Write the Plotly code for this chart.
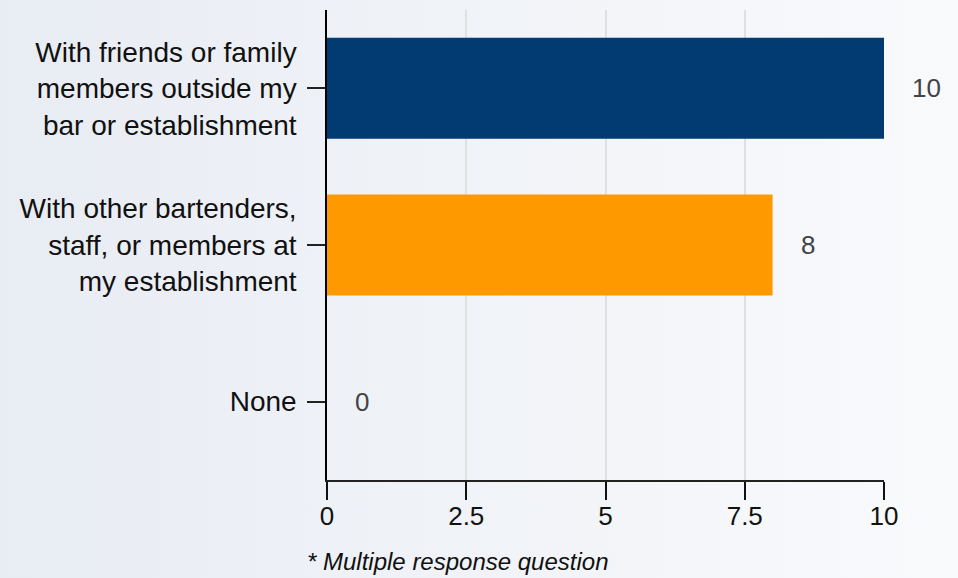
import plotly.graph_objects as go

# Survey responses (multiple response question)
categories = [
    "With friends or family<br>members outside my<br>bar or establishment",
    "With other bartenders,<br>staff, or members at<br>my establishment",
    "None",
]
counts = [10, 8, 0]
bar_colors = ["#023A72", "#FF9900", "#7F7F7F"]
x_tick_vals = [0, 2.5, 5, 7.5, 10]
x_tick_text = ["0", "2.5", "5", "7.5", "10"]
footnote = "* Multiple response question"

W, H = 958, 578
margin = dict(l=327, r=74, t=10, b=98)
plot_w = W - margin["l"] - margin["r"]
plot_h = H - margin["t"] - margin["b"]

font_family = "Liberation Sans, Arial, sans-serif"

fig = go.Figure()
fig.add_trace(
    go.Bar(
        x=counts,
        y=categories,
        orientation="h",
        marker=dict(color=bar_colors, line=dict(width=0)),
        hoverinfo="x+y",
    )
)

# Value labels placed just beyond the bar ends
for cat, val in zip(categories, counts):
    fig.add_annotation(
        x=val, y=cat, xref="x", yref="y",
        text=str(val), showarrow=False,
        xanchor="left", xshift=26,
        font=dict(family=font_family, size=26, color="#444444"),
    )

fig.add_annotation(
    x=(305 - margin["l"]) / plot_w, y=(margin["t"] + plot_h - 561) / plot_h,
    xref="paper", yref="paper",
    text="<i>" + footnote + "</i>", showarrow=False,
    xanchor="left", yanchor="middle",
    font=dict(family=font_family, size=24, color="#111111"),
)

# Soft horizontal gradient behind the whole figure
svg = (
    "data:image/svg+xml;utf8,"
    "<svg xmlns='http://www.w3.org/2000/svg' width='958' height='578' preserveAspectRatio='none'>"
    "<defs><linearGradient id='g' x1='0' y1='0' x2='1' y2='0'>"
    "<stop offset='0' stop-color='%23E8ECF3'/>"
    "<stop offset='1' stop-color='%23F9FAFC'/>"
    "</linearGradient></defs>"
    "<rect width='958' height='578' fill='url(%23g)'/></svg>"
)
fig.add_layout_image(
    source=svg, xref="paper", yref="paper",
    x=-margin["l"] / plot_w, y=1 + margin["t"] / plot_h,
    sizex=W / plot_w, sizey=H / plot_h,
    xanchor="left", yanchor="top", sizing="stretch", layer="below",
)

fig.update_layout(
    width=W, height=H,
    margin=margin,
    paper_bgcolor="#F0F3F7",
    plot_bgcolor="rgba(0,0,0,0)",
    bargap=0.355,
    showlegend=False,
    font=dict(family=font_family, size=28, color="#111111"),
    xaxis=dict(
        range=[0, 10],
        tickvals=x_tick_vals, ticktext=x_tick_text,
        showgrid=True, gridcolor="#E0E0E0", gridwidth=1.5,
        zeroline=False,
        showline=True, linecolor="#222222", linewidth=1.5,
        ticks="outside", ticklen=18, tickwidth=1.5, tickcolor="#111111",
        ticklabelstandoff=-6,
        tickfont=dict(size=26, color="#111111"),
        fixedrange=True,
    ),
    yaxis=dict(
        categoryorder="array", categoryarray=categories,
        autorange="reversed",
        showgrid=False, zeroline=False,
        showline=True, linecolor="#000000", linewidth=1.5,
        ticks="outside", ticklen=18, tickwidth=1.5, tickcolor="#222222",
        ticklabelstandoff=5,
        tickfont=dict(size=28, color="#111111"),
        fixedrange=True,
    ),
)

fig.write_html("out.html")
